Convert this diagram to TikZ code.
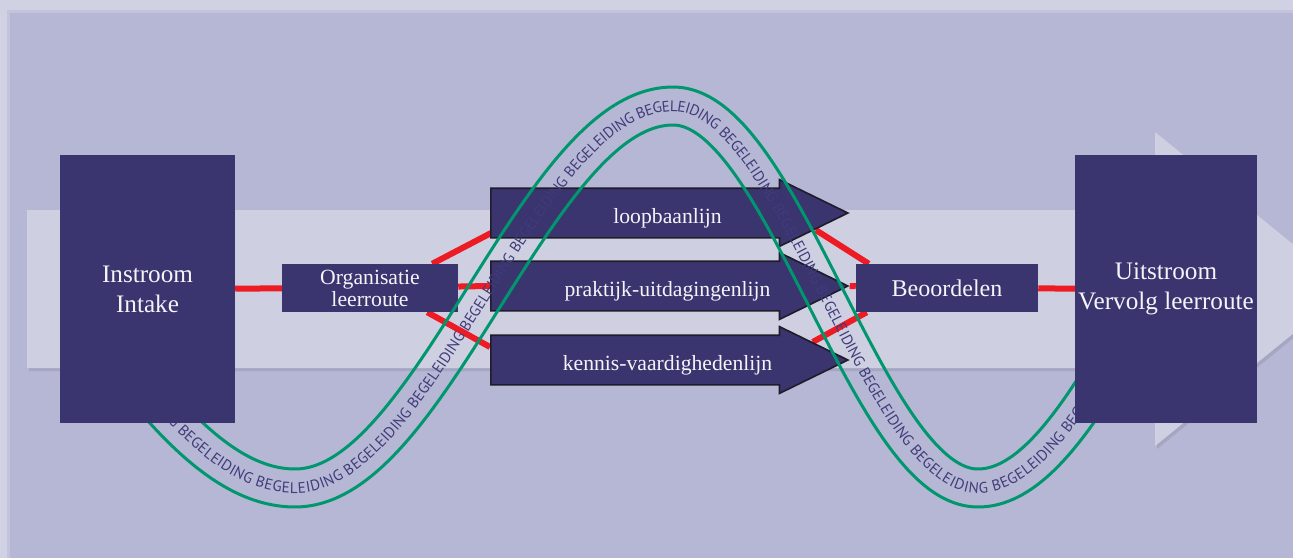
\documentclass[tikz,border=0pt]{standalone}
\usepackage{fontspec}
\setmainfont{Liberation Serif}
\newfontfamily\bandfont{PT Sans}
\usepackage{tikz}
\usetikzlibrary{shapes.arrows, decorations.text, calc, positioning}

\definecolor{pagebg}{HTML}{D1D1E4}
\definecolor{panelshade}{HTML}{C3C3DB}
\definecolor{panel}{HTML}{B6B7D4}
\definecolor{bigarrow}{HTML}{CFCFE2}
\definecolor{arrowshade}{HTML}{A6A6C3}
\definecolor{darkbox}{HTML}{3A356F}
\definecolor{lijnrand}{HTML}{1F1D2B}
\definecolor{rood}{HTML}{ED1C24}
\definecolor{groen}{HTML}{00966E}
\definecolor{bandtext}{HTML}{403B7A}
\definecolor{labeltext}{HTML}{F4F4F8}

\pgfdeclarelayer{back}
\pgfdeclarelayer{lines}
\pgfdeclarelayer{band}
\pgfdeclarelayer{front}
\pgfsetlayers{back,lines,main,band,front}

\begin{document}
\begin{tikzpicture}[x=0.03cm, y=-0.03cm,
  declare function={
    wy(\x)=ifthenelse(\x<295, 297+191*cos((\x-295)/440*180),
           ifthenelse(\x<673, 297+191*cos((\x-295)/378*180),
           ifthenelse(\x<978, 297-191*cos((\x-673)/305*180),
                              297+191*cos((\x-978)/340*180))));
    wd(\x)=ifthenelse(\x<295, -191*pi/440*sin((\x-295)/440*180),
           ifthenelse(\x<673, -191*pi/378*sin((\x-295)/378*180),
           ifthenelse(\x<978, 191*pi/305*sin((\x-673)/305*180),
                              -191*pi/340*sin((\x-978)/340*180))));
  },
  bigbox/.style={fill=darkbox, text=labeltext, align=center, inner sep=0pt,
    minimum height=8.04cm, font=\fontsize{21.5}{25.6}\selectfont},
  smallbox/.style={fill=darkbox, text=labeltext, align=center, inner sep=0pt,
    minimum height=1.44cm},
  lijn/.style={single arrow, draw=lijnrand, fill=darkbox, line width=0.05cm,
    text=labeltext, inner sep=0pt, minimum height=10.71cm,
    text height=1.02cm, text depth=0.42cm,
    single arrow head extend=0.255cm, single arrow tip angle=52, anchor=tail,
    execute at begin node=\hspace*{1.42cm}, font=\fontsize{18.5}{20}\selectfont},
  redline/.style={rood, line width=0.18cm},
  bandline/.style={groen, line width=0.09cm}]

\useasboundingbox (0,0) rectangle (1293,558);

\begin{pgfonlayer}{back}
\fill[pagebg] (0,0) rectangle (1293,558);
\fill[panelshade] (7,10) rectangle (1293,558);
\fill[panel] (10,13) rectangle (1293,558);
\fill[arrowshade] (29,213) -- (1157,213) -- (1157,135) -- (1350,292) -- (1157,449)
  -- (1157,371) -- (29,371) -- cycle;
\fill[bigarrow] (27,210) -- (1155,210) -- (1155,132) -- (1348,289) -- (1155,446)
  -- (1155,368) -- (27,368) -- cycle;
\end{pgfonlayer}

\node[smallbox, minimum width=5.28cm, font=\fontsize{18.5}{18.8}\selectfont] (org) at (370,288) {Organisatie\\leerroute};
\node[smallbox, minimum width=5.46cm, font=\fontsize{20.5}{22}\selectfont] (beoordelen) at (947,288) {Beoordelen};

\node[lijn] (loop) at (490,213) {loopbaanlijn};
\node[lijn] (praktijk) at (490,286) {praktijk-uitdagingenlijn};
\node[lijn] (kennis) at (490,360) {kennis-vaardighedenlijn};

\begin{pgfonlayer}{front}
\node[bigbox, minimum width=5.25cm] (instroom) at (147.5,289) {Instroom\\Intake};
\node[bigbox, minimum width=5.46cm] (uitstroom) at (1166,289) {Uitstroom\\Vervolg leerroute};
\end{pgfonlayer}

\begin{pgfonlayer}{lines}
\draw[redline] (instroom) -- (org);
\draw[redline] ($(org.north east)+(-26,0)$) -- ($(loop.tail)+(3,19)$);
\draw[redline] (org) -- (praktijk.tail);
\draw[redline] ($(org.south east)+(-31,0)$) -- ($(kennis.tail)+(0,-13)$);
\draw[redline] ($(loop.tip)+(-34,17)$) -- ($(beoordelen.north west)+(13,0)$);
\draw[redline] (praktijk.tip) -- (beoordelen);
\draw[redline] ($(kennis.tip)+(-37,-18)$) -- ($(beoordelen.south west)+(11,0)$);
\draw[redline] (beoordelen) -- (uitstroom);
\end{pgfonlayer}

\begin{pgfonlayer}{band}
\draw[bandline] plot[domain=120:1110, samples=300]
  ({\x-19*wd(\x)/sqrt(1+wd(\x)^2)}, {wy(\x)+19/sqrt(1+wd(\x)^2)});
\draw[bandline] plot[domain=120:1110, samples=300]
  ({\x+19*wd(\x)/sqrt(1+wd(\x)^2)}, {wy(\x)-19/sqrt(1+wd(\x)^2)});
\path[decorate, decoration={text along path, text align=left, raise=-4.5pt,
  text color=bandtext,
  text={|\bandfont\fontsize{13}{14}\selectfont|BEGELEIDING BEGELEIDING BEGELEIDING BEGELEIDING BEGELEIDING BEGELEIDING BEGELEIDING BEGELEIDING BEGELEIDING BEGELEIDING BEGELEIDING BEGELEIDING BEGELEIDING BEGELEIDING BEGELEIDING BEGELEIDING BEGELEIDING BEGELEIDING}}]
  plot[domain=120:1110, samples=300] (\x,{wy(\x)});
\end{pgfonlayer}
\end{tikzpicture}
\end{document}
